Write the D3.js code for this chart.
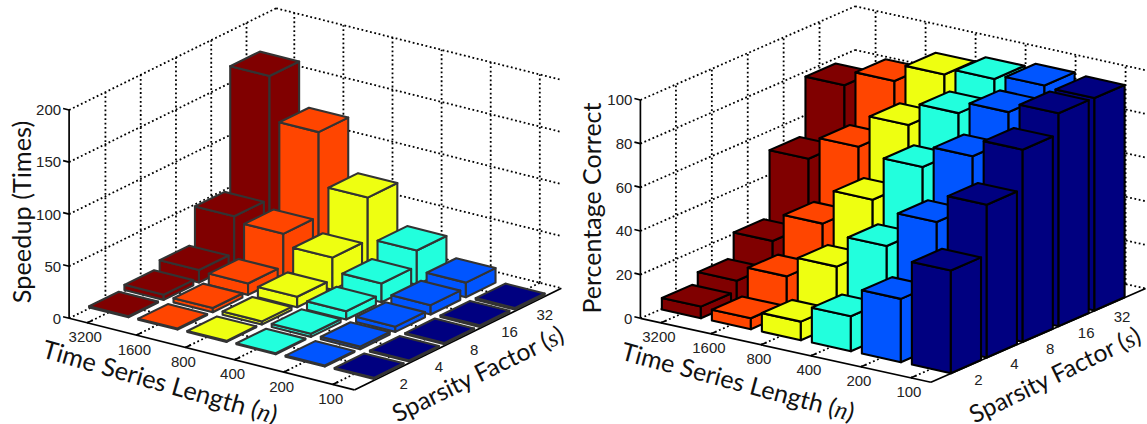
<!DOCTYPE html>
<html><head><meta charset="utf-8">
<style>html,body{margin:0;padding:0;background:#fff}svg{display:block}</style>
<script src="https://cdn.jsdelivr.net/npm/d3@7"></script></head>
<body><svg id="c" width="1147" height="424"></svg>
<script>
const lengthLabels = ["3200","1600","800","400","200","100"];
const sparsityLabels = ["2","4","8","16","32"];
const colours = ["#800000","#ff4500","#eeff11","#22ffdd","#0055ff","#000080"];
const speedupTicks = [0,50,100,150,200];
const correctTicks = [0,20,40,60,80,100];
// values are listed by sparsity 2,4,8,16,32
const speedup3200 = [1,5,12,47,165];
const speedup1600 = [1,4,11,42,123];
const speedup800  = [1,3,10,31,72];
const speedup400  = [1,3,8,18,33];
const speedup200  = [1,2.5,5,9,14];
const speedup100  = [1,1,1.2,1.5,1.5];
const correct3200 = [5.3,10,21,51.5,78];
const correct1600 = [5,17,34,62,85];
const correct800  = [8.5,26.5,50,77,93];
const correct400  = [16,41,70,87.5,96];
const correct200  = [29,57,80,93,98];
const correct100  = [47,70,88,97.5,97.3];
const speedupRows = [speedup3200,speedup1600,speedup800,speedup400,speedup200,speedup100];
const correctRows = [correct3200,correct1600,correct800,correct400,correct200,correct100];

const svg = d3.select("#c");
const dashed = g => g.attr("fill","none").attr("stroke","#000").attr("stroke-width",1.8).attr("stroke-dasharray","1.8 2.6");
const lineGen = d3.line();

function panel(o){
  const g = svg.append("g").attr("transform",`translate(${o.x},0)`);
  const zS = d3.scaleLinear().domain([0,o.zMax]).range([0,o.zPx]);
  const uS = d3.scalePoint().domain(lengthLabels).range([o.uOff,o.uOff+5]);
  const vS = d3.scalePoint().domain(sparsityLabels).range([o.vOff,o.vOff+4]);
  const P = (u,v,z)=>[o.A[0]+u*o.U[0]+v*o.V[0], o.A[1]+u*o.U[1]+v*o.V[1]-zS(z)];
  const seg = (a,b,s)=>s.append("path").attr("d",lineGen([a,b]));
  const grid = g.append("g").call(dashed);
  const uE=o.uEnd, vE=o.vEnd, zM=o.zMax;
  o.ticks.forEach(t=>{
    seg(P(0,0,t),P(0,vE,t),grid);
    seg(P(0,vE,t),P(uE,vE,t),grid);
  });
  lengthLabels.forEach(l=>{const u=uS(l);
    seg(P(u,0,0),P(u,vE,0),grid);
    seg(P(u,vE,0),P(u,vE,zM),grid);});
  sparsityLabels.forEach(l=>{const v=vS(l);
    seg(P(0,v,0),P(uE,v,0),grid);
    seg(P(0,v,0),P(0,v,zM),grid);});
  const ax = g.append("g").attr("fill","none").attr("stroke","#000").attr("stroke-width",1.7);
  seg(P(0,0,0),P(uE,0,0),ax);
  seg(P(uE,0,0),P(uE,vE,0),ax);
  seg(P(0,0,0),P(0,0,zM),ax);
  const uLen=Math.hypot(...o.U), vLen=Math.hypot(...o.V);
  const label=(x,y,anchor,t)=>g.append("text").attr("x",x).attr("y",y).attr("dy","0.36em")
     .attr("text-anchor",anchor).attr("font-family","Liberation Sans").attr("font-size",15).attr("fill","#222").text(t);
  o.ticks.forEach(t=>{const p=P(0,0,t);
    seg(p,[p[0]-6,p[1]-1.5],ax);
    label(p[0]-8,p[1],"end",t);});
  lengthLabels.forEach(l=>{const p=P(uS(l),0,0);
    seg(p,[p[0]+o.V[0]/vLen*6,p[1]+o.V[1]/vLen*6],ax);
    label(p[0]-2,p[1]+14,"middle",l);});
  sparsityLabels.forEach(l=>{const p=P(uE,vS(l),0);
    seg(p,[p[0]-o.U[0]/uLen*6,p[1]-o.U[1]/uLen*6],ax);
    label(p[0]+o.vLab[0],p[1]+o.vLab[1],"middle",l);});
  const cells=[];
  lengthLabels.forEach((l,i)=>sparsityLabels.forEach((s,j)=>cells.push({l,s,i,j,val:o.rows[i][j]})));
  cells.sort((a,b)=>(a.i-b.i)||(b.j-a.j));
  const bars=g.append("g").selectAll("g").data(cells).join("g")
    .attr("fill",d=>colours[d.i]).attr("stroke",o.edge).attr("stroke-width",o.edgeW).attr("stroke-linejoin","round");
  const hu=o.hu,hv=o.hv;
  const poly=pts=>lineGen(pts)+"Z";
  bars.append("path").attr("d",d=>{const u=uS(d.l),v=vS(d.s);
    return poly([P(u-hu,v-hv,0),P(u+hu,v-hv,0),P(u+hu,v-hv,d.val),P(u-hu,v-hv,d.val)]);});
  bars.append("path").attr("d",d=>{const u=uS(d.l),v=vS(d.s);
    return poly([P(u+hu,v-hv,0),P(u+hu,v+hv,0),P(u+hu,v+hv,d.val),P(u+hu,v-hv,d.val)]);});
  bars.append("path").attr("d",d=>{const u=uS(d.l),v=vS(d.s);
    return poly([P(u-hu,v-hv,d.val),P(u+hu,v-hv,d.val),P(u+hu,v+hv,d.val),P(u-hu,v+hv,d.val)]);});
  const title=(t,cx,cy,rot,main,it)=>{
    const e=g.append("text").attr("transform",`translate(${cx},${cy}) rotate(${rot})`).attr("text-anchor","middle")
      .attr("dy","0.35em").attr("font-family","Lato").attr("font-size",t).attr("fill","#111");
    e.append("tspan").text(main);
    if(it){e.append("tspan").attr("font-family","Liberation Serif").attr("font-style","italic").text(it);
      e.append("tspan").text(")");}
  };
  title(o.tS,o.zT[0],o.zT[1],-90,o.zTitle);
  title(o.tS,o.uT[0],o.uT[1],o.uT[2],"Time Series Length (","n");
  title(o.tSv,o.vT[0],o.vT[1],o.vT[2],"Sparsity Factor (","s");
}
panel({x:0,rows:speedupRows,ticks:speedupTicks,zMax:200,zPx:208.3,A:[69.1,318.3],U:[49.1,12.33],V:[35.27,-17.33],
  uOff:.37,vOff:1.03,uEnd:5.81,vEnd:5.87,hu:.4,hv:.42,edge:"#333",edgeW:2.1,vLab:[13,12],
  zTitle:"Speedup (Times)",tS:25.3,tSv:24.5,zT:[22,212],uT:[160,382,16],vT:[478,374,-26]});
panel({x:570,rows:correctRows,ticks:correctTicks,zMax:100,zPx:218.3,A:[70.4,318.3],U:[50,11],V:[35.9,-15.67],
  uOff:.41,vOff:.99,uEnd:5.81,vEnd:5.98,hu:.39,hv:.42,edge:"#000",edgeW:2.1,vLab:[12,13],
  zTitle:"Percentage Correct",tS:25,tSv:24.5,zT:[22,208],uT:[168,382,15],vT:[485,375,-26]});
</script></body></html>
